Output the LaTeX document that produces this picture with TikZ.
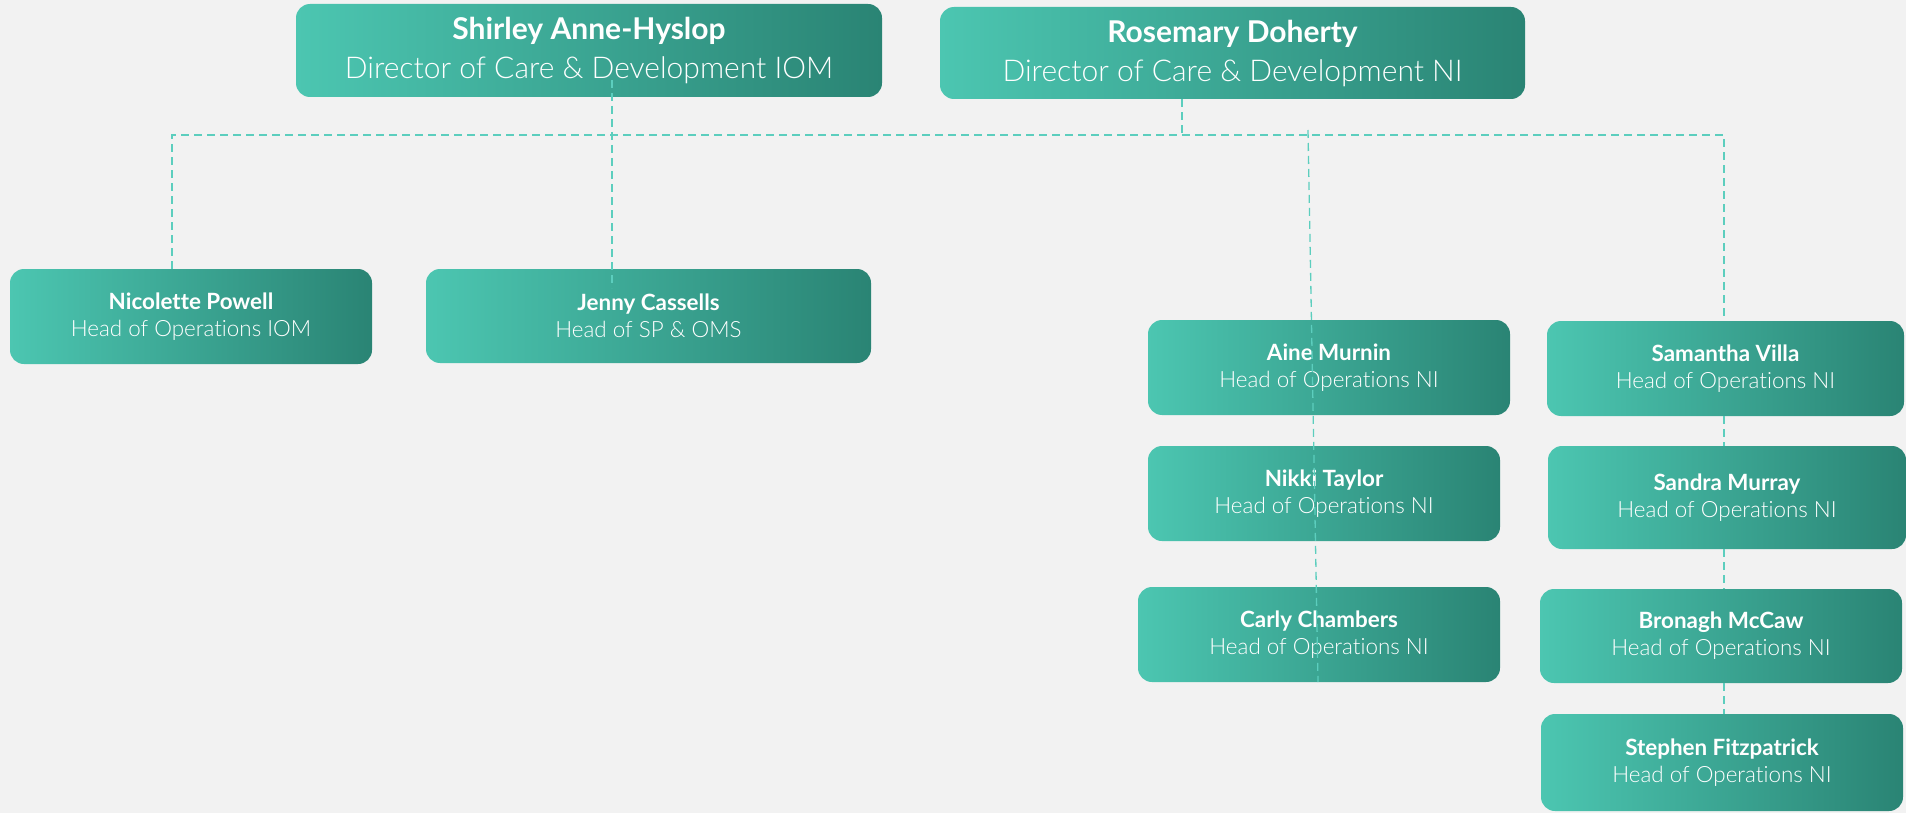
\documentclass[tikz,border=0pt]{standalone}
\usepackage{fontspec}
\setmainfont{Lato}[Ligatures=NoCommon]
\newfontfamily\lightfont{Lato Light}[Ligatures=NoCommon]
\definecolor{tealL}{HTML}{4CC6B1}
\definecolor{tealR}{HTML}{2A8474}
\definecolor{dashcol}{HTML}{5CCEBE}
\definecolor{bgcol}{HTML}{F2F2F2}
\tikzset{
  card/.style={rounded corners=7pt,left color=tealL,right color=tealR,text=white,align=center,inner sep=0pt,font=\fontsize{11.2}{13.5}\selectfont},
  bigcard/.style={card,font=\fontsize{15}{19.5}\selectfont},
  link/.style={draw=dashcol,line width=0.65pt,dash pattern=on 4pt off 2.5pt}
}
\begin{document}
\begin{tikzpicture}[x=0.5pt,y=-0.5pt]
\fill[bgcol](0,0)rectangle(1906,813);
\useasboundingbox(0,0)rectangle(1906,813);
% directors
\node[bigcard,minimum width=293pt,minimum height=46.5pt](shirley)at(589,50.5){{\bfseries Shirley Anne-Hyslop}\\{\lightfont Director of Care \& Development IOM}};
\node[bigcard,minimum width=292.5pt,minimum height=46pt](rosemary)at(1232.5,53){{\bfseries Rosemary Doherty}\\{\lightfont Director of Care \& Development NI}};
% heads
\foreach \n/\x/\y/\w/\h/\a/\b in {nicolette/191/316.5/362/95/Nicolette Powell/Head of Operations IOM,
  jenny/648.5/316/445/94/Jenny Cassells/Head of SP \& OMS,
  aine/1329/367.5/362/95/Aine Murnin/Head of Operations NI,
  nikki/1324/493.5/352/95/Nikki Taylor/Head of Operations NI,
  carly/1319/634.5/362/95/Carly Chambers/Head of Operations NI,
  samantha/1725.5/368.5/357/95/Samantha Villa/Head of Operations NI,
  sandra/1727/497.5/358/103/Sandra Murray/Head of Operations NI,
  bronagh/1721/636/362/94/Bronagh McCaw/Head of Operations NI,
  stephen/1722/762.5/362/97/Stephen Fitzpatrick/Head of Operations NI}{
  \node[card,minimum width=\w*0.5pt,minimum height=\h*0.5pt](\n)at(\x,\y){{\bfseries \a}\\{\lightfont\b}};
}
% connectors
\coordinate(busL)at(172,135);
\coordinate(busR)at(1724,135);
\coordinate(sTop)at(612,80);
\coordinate(sBot)at(612,288);
\coordinate(rDrop)at(1182,135);
\coordinate(niTop)at(1308,130);
\coordinate(niBot)at(1318,682);
\draw[link](busL|-nicolette.north)--(busL)--(busR)--(busR|-samantha.north);
\draw[link](rDrop|-rosemary.south)--(rDrop);
\draw[link](sTop)--(sBot);
\draw[link](niTop)--(niBot);
\draw[link](busR|-samantha.south)--(busR|-sandra.north) (busR|-sandra.south)--(busR|-bronagh.north) (busR|-bronagh.south)--(busR|-stephen.north);
\end{tikzpicture}
\end{document}
